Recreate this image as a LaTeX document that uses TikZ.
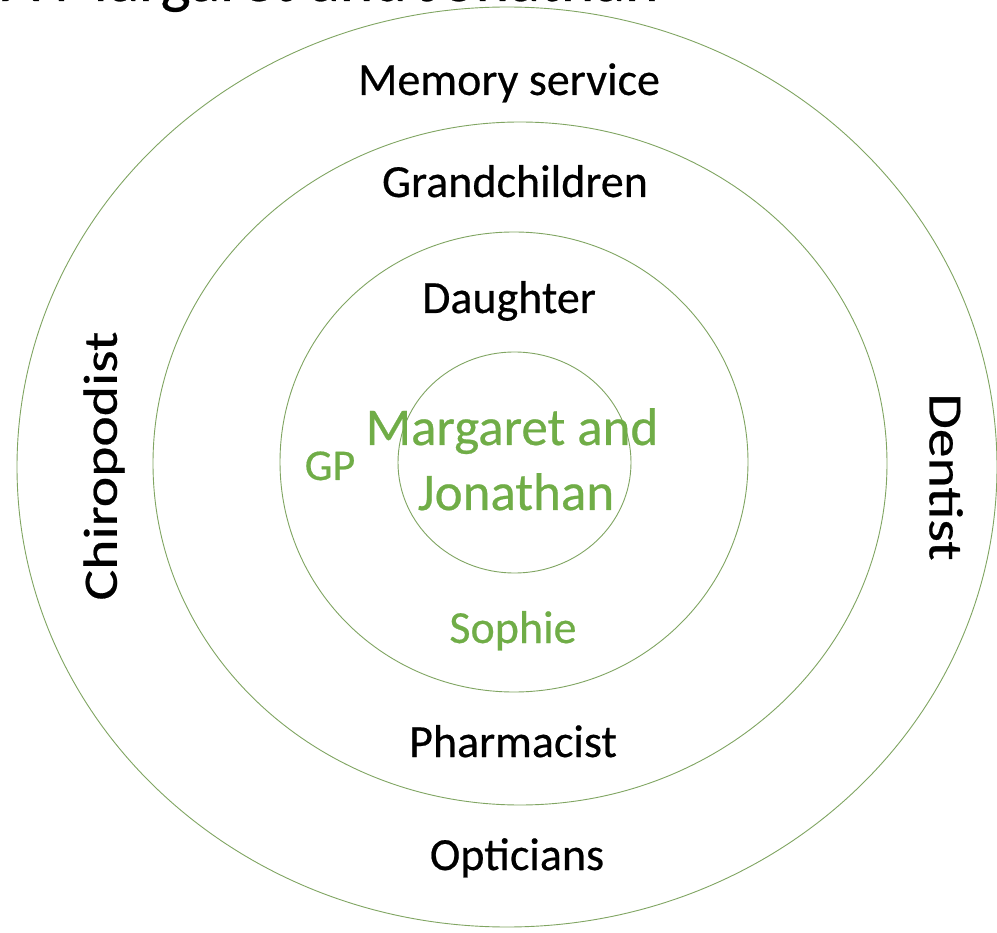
\documentclass[tikz,border=0pt]{standalone}
\usepackage{fontspec}
\setmainfont{Carlito}[UprightFeatures={FakeBold=0.45}]
\definecolor{ringline}{RGB}{128,165,98}
\definecolor{leafgreen}{RGB}{112,173,71}
\tikzset{
  ring/.style={draw=ringline, line width=0.9pt},
  lbl/.style={anchor=base, inner sep=0pt, font=\fontsize{46}{55}\selectfont, text=black},
  grn/.style={lbl, text=leafgreen},
  big/.style={grn, font=\fontsize{53}{60}\selectfont},
  side/.style={anchor=center, inner sep=0pt, font=\fontsize{48}{55}\selectfont, text=black}
}
\begin{document}
\begin{tikzpicture}[x=1pt,y=-1pt]
  \path[use as bounding box, fill=white] (0,0) rectangle (997,933);
  \clip (0,0) rectangle (997,933);

  % heading, running off the top edge
  \node[lbl, anchor=base west, font=\fontsize{64}{70}\selectfont] (title) at (2,1) {A Margaret and Jonathan};

  % four nested rings
  \draw[ring] (507,467) ellipse [x radius=490, y radius=460];
  \draw[ring] (520,463.5) ellipse [x radius=367, y radius=341.5];
  \draw[ring] (514,462) ellipse [x radius=234, y radius=230];
  \draw[ring] (514.5,462.5) ellipse [x radius=116.5, y radius=110.5];

  % labels
  \node[lbl] (memory) at (509,95) {Memory service};
  \node[lbl] (grand) at (515,197) {Grandchildren};
  \node[lbl] (daughter) at (509,313) {Daughter};
  \node[big] (margaret) at (512,445) {Margaret and};
  \node[big] (jonathan) at (516,510) {Jonathan};
  \node[grn, font=\fontsize{44}{50}\selectfont] (gp) at (330,480) {GP};
  \node[grn] (sophie) at (513,643) {Sophie};
  \node[lbl] (pharm) at (513,757) {Pharmacist};
  \node[lbl] (optic) at (517,870) {Opticians};
  \node[side, rotate=90] (chiro) at (104,466) {\scalebox{1.2}[1]{Chiropodist}};
  \node[side, rotate=-90] (dentist) at (946,477) {\scalebox{1.2}[1]{Dentist}};
\end{tikzpicture}
\end{document}
